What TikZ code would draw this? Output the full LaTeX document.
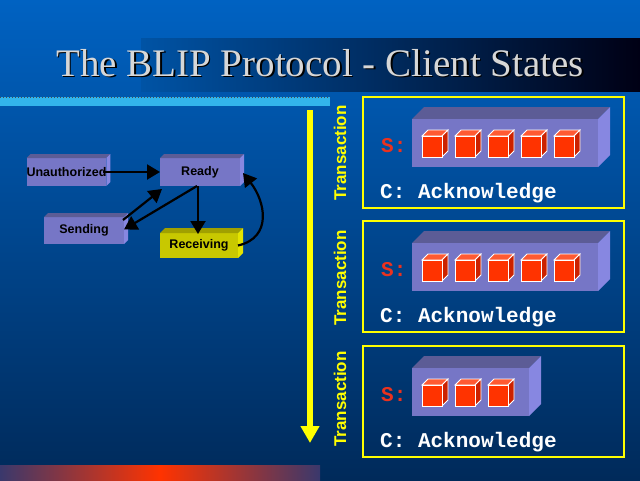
\documentclass[tikz,border=0pt]{standalone}
\usepackage{fontspec}
\setmainfont{Liberation Serif}
\setsansfont{Liberation Sans}
\setmonofont{Liberation Mono}
\usetikzlibrary{arrows.meta,calc}
\definecolor{bgtop}{RGB}{0,98,194}
\definecolor{bgbot}{RGB}{0,42,90}
\definecolor{stfront}{RGB}{118,118,198}
\definecolor{sttop}{RGB}{92,92,150}
\definecolor{stside}{RGB}{135,135,225}
\definecolor{ylfront}{RGB}{200,200,0}
\definecolor{yltop}{RGB}{160,160,0}
\definecolor{ylside}{RGB}{228,228,0}
\definecolor{cubefront}{RGB}{255,51,0}
\definecolor{cubetop}{RGB}{255,90,50}
\definecolor{cubeside}{RGB}{204,34,0}
\definecolor{sred}{RGB}{235,50,30}
\definecolor{cyanbar}{RGB}{50,180,235}
\definecolor{titlegray}{RGB}{215,215,215}
\definecolor{yl}{RGB}{255,255,0}
\definecolor{baredge}{RGB}{58,56,108}
\definecolor{barmid}{RGB}{255,51,0}
\newcommand\mycube[2]{%
  \filldraw[fill=cubetop,draw=white,line width=0.8pt] (#1,#2) -- ++(6,-6) -- ++(20,0) -- ++(-6,6) -- cycle;
  \filldraw[fill=cubeside,draw=white,line width=0.8pt] (#1+20,#2) -- ++(6,-6) -- ++(0,21) -- ++(-6,6) -- cycle;
  \filldraw[fill=cubefront,draw=white,line width=0.8pt] (#1,#2) rectangle ++(20,21);
}
\newcommand\myprism[4]{%
  \fill[sttop] (#1,#2) -- ++(12,-12) -- ++(#3,0) -- ++(-12,12) -- cycle;
  \fill[stside] (#1+#3,#2) -- ++(12,-12) -- ++(0,#4) -- ++(-12,12) -- cycle;
  \fill[stfront] (#1,#2) rectangle ++(#3,#4);
}
\newcommand\myfaces[4]{%
  \fill[#2] (#1.north west) -- ++(#4,-#4) -- ($(#1.north east)+(#4,-#4)$) -- (#1.north east) -- cycle;
  \fill[#3] (#1.north east) -- ++(#4,-#4) -- ($(#1.south east)+(#4,-#4)$) -- (#1.south east) -- cycle;
}
\tikzset{
  statebox/.style={fill=stfront, inner sep=0pt, outer sep=0pt, font=\sffamily\bfseries\fontsize{12.5}{14}\selectfont, text=black},
  recvbox/.style={statebox, fill=ylfront},
  trans/.style={->, line width=2.2pt, >={Triangle[length=13pt,width=15pt]}},
  tbox/.style={draw=yl, line width=2.5pt},
  translabel/.style={rotate=90, text=yl, font=\sffamily\bfseries\fontsize{17}{19}\selectfont, inner sep=0pt},
  ack/.style={anchor=base west, text=white, font=\ttfamily\bfseries\fontsize{21}{23}\selectfont, inner sep=0pt},
  slabel/.style={anchor=west, text=sred, font=\ttfamily\bfseries\fontsize{21}{23}\selectfont, inner sep=0pt},
}
\begin{document}
\begin{tikzpicture}[x=1pt,y=-1pt]
\useasboundingbox (0,0) rectangle (640,480);
% background
\shade[top color=bgtop, bottom color=bgbot] (0,0) rectangle (640,480);
% title band
\shade[left color=bgtop!85!black, right color=black!92!blue] (141,38) rectangle (640,91);
\node[text=black, font=\fontsize{39}{42}\selectfont, anchor=base, inner sep=0pt] (titleshadow) at (321.5,77.5) {The BLIP Protocol - Client States};
\node[text=titlegray, font=\fontsize{39}{42}\selectfont, anchor=base, inner sep=0pt] (title) at (320,76) {The BLIP Protocol - Client States};
% cyan bar
\fill[cyanbar] (0,97) rectangle (330,106);
\draw[black!70, dotted, line width=1pt] (0,97.5) -- (330,97.5);
% bottom gradient bar
\shade[left color=baredge, right color=baredge, middle color=barmid] (0,465) rectangle (320,480);

% state diagram
\node[statebox, minimum width=79pt, minimum height=28pt] (unauth) at (66.5,172) {Unauthorized};
\myfaces{unauth}{sttop}{stside}{4}
\node[statebox, minimum width=80pt, minimum height=28pt] (ready) at (200,172) {Ready};
\myfaces{ready}{sttop}{stside}{4}
\node[statebox, minimum width=80pt, minimum height=27pt] (sending) at (84,230.5) {Sending};
\myfaces{sending}{sttop}{stside}{4}
\node[recvbox, minimum width=78pt, minimum height=25pt] (receiving) at (199,245.5) {Receiving};
\myfaces{receiving}{yltop}{ylside}{5}

\draw[trans] ([xshift=-3pt]unauth.east) -- (ready.west);
\draw[trans] ([xshift=-2pt]ready.south) -- ([xshift=-1pt,yshift=-1pt]receiving.north);
\draw[trans] ([xshift=-3pt]ready.south) -- ([yshift=1pt]sending.east);
\draw[trans] ([xshift=-1pt,yshift=-3pt]sending.north east) -- ([xshift=2pt,yshift=-3pt]ready.south west);
\draw[trans] (receiving.east) .. controls +(35,-8) and +(22,28) .. ([xshift=3pt,yshift=-1pt]ready.east);

% time arrow
\coordinate (tstart) at (310,110);
\coordinate (tend) at (310,443);
\draw[line width=6pt, draw=yl, -{Triangle[length=17pt,width=18pt]}] (tstart) -- (tend);

% transaction boxes
\draw[tbox] (363,97) rectangle (624,208);
\draw[tbox] (363,221) rectangle (624,332);
\draw[tbox] (363,346) rectangle (624,457);

\node[translabel] (t1) at (340,153) {Transaction};
\node[translabel] (t2) at (340,278) {Transaction};
\node[translabel] (t3) at (340,399) {Transaction};

% box 1
\myprism{412}{119}{186}{48}
\foreach \i in {0,...,4} {\mycube{422+33*\i}{136}}
\node[slabel] (s1) at (381,146) {S:};
\node[ack] (c1) at (380,198) {C: Acknowledge};
% box 2
\myprism{412}{243}{186}{48}
\foreach \i in {0,...,4} {\mycube{422+33*\i}{260}}
\node[slabel] (s2) at (381,270) {S:};
\node[ack] (c2) at (380,322) {C: Acknowledge};
% box 3
\myprism{412}{368}{117}{48}
\foreach \i in {0,...,2} {\mycube{422+33*\i}{385}}
\node[slabel] (s3) at (381,395) {S:};
\node[ack] (c3) at (380,447) {C: Acknowledge};
\end{tikzpicture}
\end{document}
